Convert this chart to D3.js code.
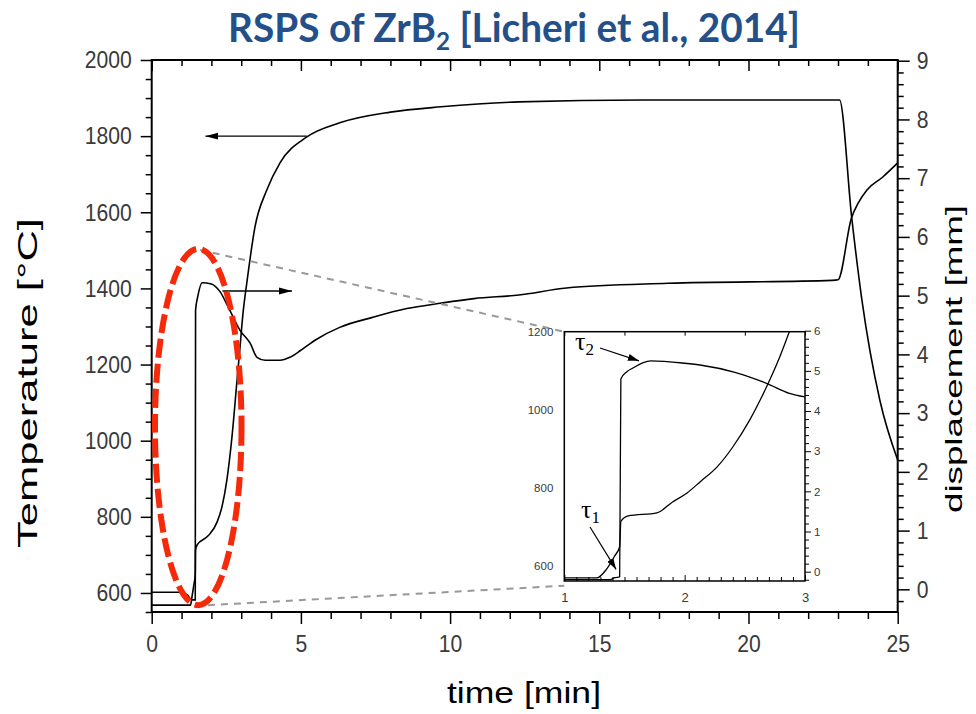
<!DOCTYPE html>
<html>
<head>
<meta charset="utf-8">
<script src="https://cdn.jsdelivr.net/npm/d3@7/dist/d3.min.js"></script>
<style>
  body { margin: 0; background: #fff; }
  svg text { font-family: "Liberation Sans", Arial, sans-serif; }
</style>
</head>
<body>
<svg id="chart" width="976" height="714"></svg>
<script>
// main plot: temperature (left axis) and displacement (right axis) vs time
const tempTime = [0, 1.3, 1.35, 1.42, 1.46, 1.47, 1.52, 1.89, 2.19, 2.36, 2.52, 2.69, 2.86, 2.96, 3.06, 3.2, 3.46, 3.86, 4.3, 5.2, 6.3, 8.0, 9.7, 12.3, 16.5, 23.05, 23.46, 23.8, 24.4, 25];
const tempVals = [568, 568, 590, 625, 648, 713, 726, 750, 786, 828, 897, 1010, 1159, 1246, 1335, 1422, 1561, 1659, 1730, 1798, 1835, 1863, 1877, 1890, 1895, 1895, 1585, 1370, 1107, 949];

const dispTime = [0, 1.0, 1.2, 1.35, 1.46, 1.47, 1.55, 1.69, 2.0, 2.3, 2.57, 2.96, 3.3, 3.53, 3.8, 4.3, 4.63, 5.0, 5.5, 6.3, 7.4, 8.55, 9.66, 10.8, 12.3, 13.9, 17.3, 22.8, 23.0, 23.45, 23.68, 23.97, 24.5, 25];
const dispVals = [-0.05, -0.05, -0.1, -0.18, -0.18, 4.75, 5.0, 5.22, 5.2, 5.06, 4.8, 4.41, 4.19, 3.95, 3.9, 3.9, 3.95, 4.07, 4.25, 4.46, 4.63, 4.78, 4.87, 4.95, 5.01, 5.13, 5.21, 5.26, 5.27, 6.32, 6.58, 6.8, 7.02, 7.26];

// inset (zoom on 1-3 min)
const insetTempTime = [1, 1.27, 1.35, 1.42, 1.46, 1.47, 1.53, 1.77, 1.9, 2.02, 2.13, 2.27, 2.4, 2.54, 2.68, 2.79, 2.87];
const insetTempVals = [568, 568, 590, 625, 648, 713, 727, 735, 763, 786, 815, 853, 904, 973, 1058, 1135, 1200];
const insetDispTime = [1, 1.38, 1.42, 1.46, 1.47, 1.52, 1.57, 1.65, 1.72, 2.0, 2.14, 2.41, 2.68, 2.87, 3.0];
const insetDispVals = [-0.2, -0.2, -0.15, -0.13, 4.8, 4.98, 5.07, 5.2, 5.25, 5.19, 5.14, 4.97, 4.69, 4.44, 4.35];

// ticks
const timeTicks = [0, 5, 10, 15, 20, 25];
const tempTicks = [600, 800, 1000, 1200, 1400, 1600, 1800, 2000];
const dispTicks = [0, 1, 2, 3, 4, 5, 6, 7, 8, 9];
const insetTimeTicks = [1, 2, 3];
const insetTempTicks = [600, 800, 1000, 1200];
const insetDispTicks = [0, 1, 2, 3, 4, 5, 6];

const svg = d3.select("#chart");
const fmt = d3.format("d");

const x = d3.scaleLinear().domain([0, 25]).range([151.7, 897.7]);
const yT = d3.scaleLinear().domain([550, 2000]).range([612, 60]);
const yD = d3.scaleLinear().domain([-0.386, 9.012]).range([612, 60]);

const xi = d3.scaleLinear().domain([1, 3]).range([564.3, 805]);
const yTi = d3.scaleLinear().domain([560, 1200]).range([581, 331.7]);
const yDi = d3.scaleLinear().domain([-0.232, 5.975]).range([581, 331.7]);

const defs = svg.append("defs");
defs.append("marker").attr("id", "head")
  .attr("markerUnits", "userSpaceOnUse")
  .attr("markerWidth", 14).attr("markerHeight", 10)
  .attr("refX", 13).attr("refY", 5).attr("orient", "auto")
  .append("path").attr("d", "M0,1.5 L13,5 L0,8.5 Z").attr("fill", "#000");
defs.append("marker").attr("id", "headSmall")
  .attr("markerUnits", "userSpaceOnUse")
  .attr("markerWidth", 12).attr("markerHeight", 10)
  .attr("refX", 11).attr("refY", 5).attr("orient", "auto")
  .append("path").attr("d", "M0,1.5 L11,5 L0,8.5 Z").attr("fill", "#000");
defs.append("clipPath").attr("id", "insetClip")
  .append("rect").attr("x", 564.3).attr("y", 331.7).attr("width", 805 - 564.3).attr("height", 581 - 331.7);

// title
const title = svg.append("text")
  .attr("x", 514).attr("y", 42)
  .attr("text-anchor", "middle")
  .style("font-family", "Lato, 'Open Sans', sans-serif")
  .style("font-weight", "700").style("font-size", "40px")
  .attr("fill", "#24508a");
title.append("tspan").text("RSPS of ZrB");
title.append("tspan").attr("dy", 8).style("font-size", "25px").text("2");
title.append("tspan").attr("dy", -8).text(" [Licheri et al., 2014]");
const tb = title.node().getBBox();
const sx = 572 / tb.width;
title.attr("transform", "translate(514,0) scale(" + sx + ",1) translate(-514,0)");

// axes helpers
function styleAxis(g, size) {
  g.select(".domain").remove();
  g.selectAll("line").attr("stroke", "#000").attr("stroke-width", 1.5);
  g.selectAll("text").attr("fill", "#3a3a3a").style("font-size", size);
}

const minorTemp = d3.range(550, 2001, 50).filter(v => v % 200 !== 0 || v < 600);
const minorDisp = d3.range(-1, 46).map(v => v / 5).filter(v => Math.round(v * 5) % 5 !== 0);
const minorTime = d3.range(0, 26).filter(v => v % 5 !== 0);

svg.append("g").attr("transform", "translate(151.7,0)")
  .call(d3.axisLeft(yT).tickValues(minorTemp).tickSize(6).tickFormat(""))
  .call(g => styleAxis(g, "23px"));
svg.append("g").attr("transform", "translate(151.7,0)")
  .call(d3.axisLeft(yT).tickValues(tempTicks).tickSize(11).tickPadding(9).tickFormat(fmt))
  .call(g => styleAxis(g, "23px"));

svg.append("g").attr("transform", "translate(897.7,0)")
  .call(d3.axisRight(yD).tickValues(minorDisp).tickSize(6).tickFormat(""))
  .call(g => styleAxis(g, "23px"));
svg.append("g").attr("transform", "translate(897.7,0)")
  .call(d3.axisRight(yD).tickValues(dispTicks).tickSize(12).tickPadding(7).tickFormat(fmt))
  .call(g => styleAxis(g, "23px"));

svg.append("g").attr("transform", "translate(0,612)")
  .call(d3.axisBottom(x).tickValues(minorTime).tickSize(7).tickFormat(""))
  .call(g => styleAxis(g, "23px"));
svg.append("g").attr("transform", "translate(0,612)")
  .call(d3.axisBottom(x).tickValues(timeTicks).tickSize(12).tickPadding(9).tickFormat(fmt))
  .call(g => styleAxis(g, "23px"));

svg.append("g").attr("transform", "translate(0,60)")
  .call(d3.axisTop(x).tickValues(minorTime).tickSize(-6).tickFormat(""))
  .call(g => styleAxis(g, "23px"));
svg.append("g").attr("transform", "translate(0,60)")
  .call(d3.axisTop(x).tickValues(timeTicks).tickSize(-11).tickFormat(""))
  .call(g => styleAxis(g, "23px"));

// tick labels in the reference are narrow and tall
svg.selectAll("g.tick text").each(function () {
  const t = d3.select(this);
  const px = +t.attr("x") || 0;
  t.attr("transform", "translate(" + px + ",0) scale(0.92,1.06) translate(" + (-px) + ",0)");
});

svg.append("rect")
  .attr("x", x(0)).attr("y", yT(2000))
  .attr("width", x(25) - x(0)).attr("height", yT(550) - yT(2000))
  .attr("fill", "none").attr("stroke", "#000").attr("stroke-width", 2);

// axis titles
svg.append("text")
  .attr("transform", "translate(37,383) rotate(-90)")
  .attr("text-anchor", "middle").style("font-size", "28px").attr("fill", "#000")
  .attr("textLength", 330).attr("lengthAdjust", "spacingAndGlyphs")
  .text("Temperature [°C]");
svg.append("text")
  .attr("transform", "translate(962,359) rotate(-90)")
  .attr("text-anchor", "middle").style("font-size", "24px").attr("fill", "#000")
  .attr("textLength", 308).attr("lengthAdjust", "spacingAndGlyphs")
  .text("displacement [mm]");
svg.append("text")
  .attr("x", 524).attr("y", 703)
  .attr("text-anchor", "middle").style("font-size", "29px").attr("fill", "#000")
  .attr("textLength", 154).attr("lengthAdjust", "spacingAndGlyphs")
  .text("time [min]");

// main curves
const tempLine = d3.line().x(d => x(d[0])).y(d => yT(d[1])).curve(d3.curveMonotoneX);
const dispLine = d3.line().x(d => x(d[0])).y(d => yD(d[1])).curve(d3.curveMonotoneX);

svg.append("path").datum(d3.zip(tempTime, tempVals))
  .attr("d", tempLine).attr("fill", "none").attr("stroke", "#000").attr("stroke-width", 1.6);
svg.append("path").datum(d3.zip(dispTime, dispVals))
  .attr("d", dispLine).attr("fill", "none").attr("stroke", "#000").attr("stroke-width", 1.6);

// curve markers (arrows to axes)
svg.append("line")
  .attr("x1", x(5.2)).attr("y1", yT(1800)).attr("x2", x(1.8)).attr("y2", yT(1800))
  .attr("stroke", "#000").attr("stroke-width", 1.4).attr("marker-end", "url(#head)");
svg.append("line")
  .attr("x1", x(2.37)).attr("y1", yD(5.08)).attr("x2", x(4.7)).attr("y2", yD(5.08))
  .attr("stroke", "#000").attr("stroke-width", 1.4).attr("marker-end", "url(#head)");

// zoom connectors
svg.append("line")
  .attr("x1", x(1.62)).attr("y1", yT(1501)).attr("x2", xi(1)).attr("y2", yTi(1200))
  .attr("stroke", "#999").attr("stroke-width", 2).attr("stroke-dasharray", "7,6");
svg.append("line")
  .attr("x1", x(1.45)).attr("y1", yT(566)).attr("x2", xi(1)).attr("y2", yTi(548))
  .attr("stroke", "#999").attr("stroke-width", 2).attr("stroke-dasharray", "7,6");

// red highlight ellipse
svg.append("ellipse")
  .attr("cx", x(1.56)).attr("cy", yT(1036))
  .attr("rx", x(1.56 + 1.45) - x(1.56)).attr("ry", yT(1036) - yT(1036 + 468))
  .attr("fill", "none").attr("stroke", "#f52a0a").attr("stroke-width", 6)
  .attr("stroke-dasharray", "19,6");

// inset
const inset = svg.append("g");
inset.append("rect")
  .attr("x", xi(1)).attr("y", yTi(1200))
  .attr("width", xi(3) - xi(1)).attr("height", yTi(560) - yTi(1200))
  .attr("fill", "#fff");

const minorInsetTime = d3.range(10, 31).map(v => v / 10).filter(v => Math.round(v * 10) % 10 !== 0);
const minorInsetDisp = d3.range(-1, 30).map(v => v / 5).filter(v => Math.round(v * 5) % 5 !== 0);

inset.append("g").attr("transform", "translate(0,581)")
  .call(d3.axisBottom(xi).tickValues(minorInsetTime).tickSize(-4).tickFormat(""))
  .call(g => styleAxis(g, "11px"));
inset.append("g").attr("transform", "translate(0,581)")
  .call(d3.axisBottom(xi).tickValues(insetTimeTicks).tickSize(-6).tickPadding(12).tickFormat(fmt))
  .call(g => styleAxis(g, "13px"));
inset.append("g").attr("transform", "translate(0,331.7)")
  .call(d3.axisTop(xi).tickValues(d3.range(10, 31, 5).map(v => v / 10)).tickSize(-4).tickFormat(""))
  .call(g => styleAxis(g, "11px"));
inset.append("g").attr("transform", "translate(564.3,0)")
  .call(d3.axisLeft(yTi).tickValues(insetTempTicks).tickSize(0).tickPadding(11).tickFormat(fmt))
  .call(g => styleAxis(g, "11.5px"));
inset.append("g").attr("transform", "translate(805,0)")
  .call(d3.axisRight(yDi).tickValues(minorInsetDisp).tickSize(4).tickFormat(""))
  .call(g => styleAxis(g, "11px"));
inset.append("g").attr("transform", "translate(805,0)")
  .call(d3.axisRight(yDi).tickValues(insetDispTicks).tickSize(6).tickPadding(3).tickFormat(fmt))
  .call(g => styleAxis(g, "11.5px"));
inset.selectAll("line").attr("stroke-width", 1);

inset.append("rect")
  .attr("x", xi(1)).attr("y", yTi(1200))
  .attr("width", xi(3) - xi(1)).attr("height", yTi(560) - yTi(1200))
  .attr("fill", "none").attr("stroke", "#000").attr("stroke-width", 1.5);

const insetTempLine = d3.line().x(d => xi(d[0])).y(d => yTi(d[1])).curve(d3.curveMonotoneX);
const insetDispLine = d3.line().x(d => xi(d[0])).y(d => yDi(d[1])).curve(d3.curveMonotoneX);
inset.append("path").datum(d3.zip(insetTempTime, insetTempVals))
  .attr("clip-path", "url(#insetClip)")
  .attr("d", insetTempLine).attr("fill", "none").attr("stroke", "#000").attr("stroke-width", 1.3);
inset.append("path").datum(d3.zip(insetDispTime, insetDispVals))
  .attr("clip-path", "url(#insetClip)")
  .attr("d", insetDispLine).attr("fill", "none").attr("stroke", "#000").attr("stroke-width", 1.3);

// tau labels
function tau(px, py, sub) {
  const t = inset.append("text").attr("x", px).attr("y", py)
    .style("font-family", "'Liberation Serif', 'DejaVu Serif', serif")
    .style("font-size", "26px").attr("fill", "#000");
  t.append("tspan").text("τ");
  t.append("tspan").attr("dy", 5).style("font-size", "17px").text(sub);
}
tau(575, 350, "2");
tau(581, 518, "1");

inset.append("line")
  .attr("x1", 600).attr("y1", 348).attr("x2", xi(1.62)).attr("y2", yDi(5.25))
  .attr("stroke", "#000").attr("stroke-width", 1.2).attr("marker-end", "url(#headSmall)");
inset.append("line")
  .attr("x1", 590).attr("y1", 527).attr("x2", xi(1.43)).attr("y2", yTi(590))
  .attr("stroke", "#000").attr("stroke-width", 1.2).attr("marker-end", "url(#headSmall)");
</script>
</body>
</html>
